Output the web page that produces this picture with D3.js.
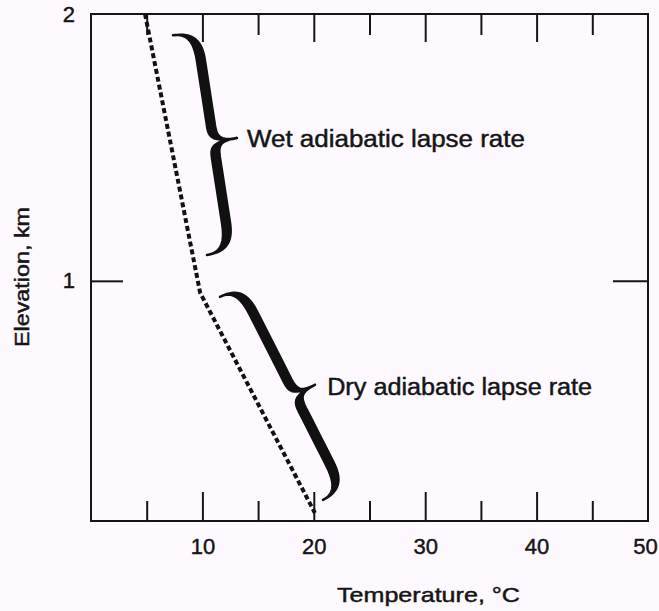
<!DOCTYPE html>
<html>
<head>
<meta charset="utf-8">
<script src="https://cdn.jsdelivr.net/npm/d3@7"></script>
<style>
  body { margin: 0; background: #fef9fe; }
  svg { display: block; }
  text { font-family: "Liberation Sans", Arial, Helvetica, sans-serif; fill: #151515; stroke: #151515; stroke-width: 0.45px; }
</style>
</head>
<body>
<svg id="chart" width="659" height="611"></svg>
<script>
// ---- data ----
const xMajorTicks = [10, 20, 30, 40, 50];
const xMinorTicks = [5, 15, 25, 35, 45];
const yTickValues = [1, 2];
const yInnerTicks = [1];

// temperature profile (dashed line)
const profileTemp = [4.85, 9.8, 20.1];
const profileElev = [2.0, 0.955, 0.13];

// braces: top end, bottom end, tip  (temperature, elevation)
const braceNames = ["Wet adiabatic lapse rate", "Dry adiabatic lapse rate"];
const braceTopT = [7.36, 11.58];
const braceTopE = [1.92, 0.94];
const braceBotT = [10.41, 20.83];
const braceBotE = [1.097, 0.179];
const braceTipT = [13.1, 20.1];
const braceTipE = [1.535, 0.61];
const labelT = [14.0, 21.2];
const labelE = [1.502, 0.572];

const svg = d3.select("#chart");

const x = d3.scaleLinear().domain([0, 50]).range([91, 648]);
const y = d3.scaleLinear().domain([0.1, 2]).range([521, 14]);

// frame
svg.append("rect")
    .attr("x", x(0)).attr("y", y(2))
    .attr("width", x(50) - x(0)).attr("height", y(0.1) - y(2))
    .attr("fill", "none").attr("stroke", "#151515").attr("stroke-width", 2);

function ticks(axis, tx, ty) {
    const g = svg.append("g").attr("transform", `translate(${tx},${ty})`).call(axis);
    g.select(".domain").remove();
    g.selectAll("line").attr("stroke", "#151515").attr("stroke-width", 2);
    return g;
}

// inward ticks, bottom and top
ticks(d3.axisTop(x).tickValues(xMajorTicks.slice(0, 4)).tickSize(29).tickFormat(""), 0, y(0.1));
ticks(d3.axisTop(x).tickValues(xMinorTicks).tickSize(20).tickFormat(""), 0, y(0.1));
ticks(d3.axisBottom(x).tickValues(xMajorTicks.slice(0, 4)).tickSize(28).tickFormat(""), 0, y(2));
ticks(d3.axisBottom(x).tickValues(xMinorTicks).tickSize(21).tickFormat(""), 0, y(2));
ticks(d3.axisRight(y).tickValues(yInnerTicks).tickSize(32).tickFormat(""), x(0), 0);
ticks(d3.axisLeft(y).tickValues(yInnerTicks).tickSize(35).tickFormat(""), x(50), 0);

// tick labels
const xl = ticks(d3.axisBottom(x).tickValues(xMajorTicks).tickSize(0).tickPadding(17).tickFormat(d3.format("d")), 0, y(0.1));
xl.selectAll("text").style("font-size", "22px").style("font-family", null).attr("fill", "#151515")
    .attr("dx", d => d === 50 ? -3 : 0);
const yl = ticks(d3.axisLeft(y).tickValues(yTickValues).tickSize(0).tickPadding(16).tickFormat(d3.format("d")), x(0), 0);
yl.selectAll("text").style("font-size", "22px").style("font-family", null).attr("fill", "#151515");

// axis titles
svg.append("text")
    .attr("x", 337).attr("y", 602)
    .attr("textLength", 183).attr("lengthAdjust", "spacingAndGlyphs")
    .style("font-size", "21px")
    .text("Temperature, °C");

svg.append("text")
    .attr("transform", "translate(29,347) rotate(-90)")
    .attr("textLength", 140).attr("lengthAdjust", "spacingAndGlyphs")
    .style("font-size", "20px")
    .text("Elevation, km");

// dashed profile
const line = d3.line().x(d => x(d[0])).y(d => y(d[1]));
svg.append("path")
    .attr("d", line(d3.zip(profileTemp, profileElev)))
    .attr("fill", "none").attr("stroke", "#111")
    .attr("stroke-width", 4)
    .attr("stroke-dasharray", "5,3");

// curly braces
function cubic(p0, p1, p2, p3, n) {
    const out = [];
    for (let i = 0; i <= n; i++) {
        const t = i / n, s = 1 - t;
        out.push([
            s*s*s*p0[0] + 3*s*s*t*p1[0] + 3*s*t*t*p2[0] + t*t*t*p3[0],
            s*s*s*p0[1] + 3*s*s*t*p1[1] + 3*s*t*t*p2[1] + t*t*t*p3[1]
        ]);
    }
    return out;
}

function braceSide(L, D, m, h) {
    const e = 0.13 * L, s = 0.07 * L;
    return [].concat(
        cubic([0, 0], [0, 0.75*h], [e*0.35, h], [e, h], 16),
        cubic([e, h], [e + 10, h], [m - s - 10, h], [m - s, h], 4),
        cubic([m - s, h], [m - s*0.25, h], [m, h + 0.15*(D - h)], [m, D], 10),
        cubic([m, D], [m, h + 0.15*(D - h)], [m + s*0.25, h], [m + s, h], 10),
        cubic([m + s, h], [m + s + 10, h], [L - e - 10, h], [L - e, h], 4),
        cubic([L - e, h], [L - e*0.35, h], [L, 0.75*h], [L, 0], 16)
    );
}

braceNames.forEach((name, i) => {
    const A = [x(braceTopT[i]), y(braceTopE[i])];
    const B = [x(braceBotT[i]), y(braceBotE[i])];
    const T = [x(braceTipT[i]), y(braceTipE[i])];
    const L = Math.hypot(B[0] - A[0], B[1] - A[1]);
    const ax = [(B[0] - A[0]) / L, (B[1] - A[1]) / L];
    let pv = [ax[1], -ax[0]];
    const rel = [T[0] - A[0], T[1] - A[1]];
    let D = rel[0]*pv[0] + rel[1]*pv[1];
    if (D < 0) { pv = [-pv[0], -pv[1]]; D = -D; }
    const m = rel[0]*ax[0] + rel[1]*ax[1];
    const h = 0.5 * D, th = 8;
    const outer = braceSide(L, D, m, h + th/2);
    const inner = braceSide(L, D, m, h - th/2).reverse();
    const pts = outer.concat(inner).map(p => [
        A[0] + p[0]*ax[0] + p[1]*pv[0],
        A[1] + p[0]*ax[1] + p[1]*pv[1]
    ]);
    svg.append("path")
        .attr("d", d3.line()(pts) + "Z")
        .attr("fill", "#111")
        .attr("stroke", "#111").attr("stroke-width", 2.5).attr("stroke-linejoin", "round");

    svg.append("text")
        .attr("x", x(labelT[i])).attr("y", y(labelE[i]))
        .attr("textLength", i === 0 ? 278 : 265).attr("lengthAdjust", "spacingAndGlyphs")
        .style("font-size", "23px")
        .text(name);
});
</script>
</body>
</html>
